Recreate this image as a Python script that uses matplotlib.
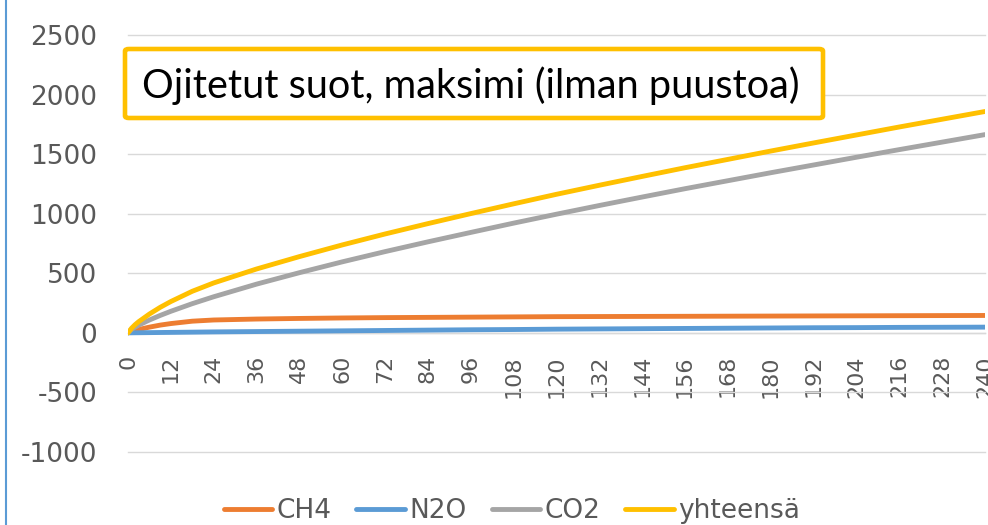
import matplotlib
matplotlib.use("Agg")
import matplotlib.pyplot as plt
from matplotlib import font_manager
from matplotlib.lines import Line2D
from matplotlib.patches import FancyBboxPatch

# ---------------- DATA ----------------

months = [0, 1, 2, 3, 6, 9, 12, 18, 24, 36, 48, 60, 72, 84, 96, 108, 120,
          132, 144, 156, 168, 180, 192, 204, 216, 228, 240]

ch4 = [0, 10, 20, 28, 48, 65, 78, 98, 108, 116, 121, 125, 128, 130, 132, 134, 136,
       137, 138, 139, 140, 141, 142, 143, 144, 145, 146]

n2o = [0, 0.3, 0.7, 1, 2, 3, 4, 6, 8, 11, 14, 17, 20, 23, 26, 28, 31,
       33, 35, 37, 39, 41, 43, 44, 46, 47, 48]

co2 = [0, 29, 48, 65, 108, 146, 181, 245, 303, 409, 505, 596, 682, 764, 843, 921, 996,
       1069, 1140, 1210, 1277, 1344, 1409, 1474, 1538, 1601, 1664]

yhteensa = [0, 39, 69, 94, 158, 214, 263, 349, 419, 536, 640, 738, 830, 917, 1001, 1083, 1163,
            1239, 1313, 1386, 1456, 1526, 1594, 1661, 1728, 1793, 1858]

tick_months = list(range(0, 241, 12))
tick_labels = [str(m) for m in tick_months]
y_ticks = [-1000, -500, 0, 500, 1000, 1500, 2000, 2500]

series = [
    ("CH4", ch4, "#ED7D31"),
    ("N2O", n2o, "#5B9BD5"),
    ("CO2", co2, "#A5A5A5"),
    ("yhteensä", yhteensa, "#FFC000"),
]

# ---------------- FONTS ----------------

installed = {f.name for f in font_manager.fontManager.ttflist}
narrow = "Liberation Sans Narrow" if "Liberation Sans Narrow" in installed else "DejaVu Sans"
title_font = "Lato" if "Lato" in installed else "DejaVu Sans"

TEXT_GREY = "#595959"
GRID_GREY = "#D9D9D9"

# ---------------- FIGURE ----------------

fig = plt.figure(figsize=(9.88, 5.25), dpi=100)
ax = fig.add_axes([128 / 988, 1 - 452 / 525, (985 - 128) / 988, (452 - 35) / 525])

for s in ["top", "right", "left"]:
    ax.spines[s].set_visible(False)
# x axis crosses at zero (set before tick labels, this resets ticks)
ax.spines["bottom"].set_position(("data", 0))
ax.spines["bottom"].set_color(GRID_GREY)
ax.spines["bottom"].set_linewidth(1)
ax.spines["bottom"].set_zorder(2)

for name, vals, col in series:
    ax.plot(months, vals, color=col, lw=3.5, label=name,
            solid_capstyle="round", solid_joinstyle="round", zorder=3)

ax.set_xlim(0, 240)
ax.set_ylim(-1000, 2500)
ax.set_yticks(y_ticks)
ax.set_yticklabels([str(v) for v in y_ticks])
ax.set_xticks(tick_months)
ax.set_xticklabels(tick_labels, rotation=90, va="top", ha="center",
                   family=narrow, fontsize=21 if narrow != "DejaVu Sans" else 16)

ax.grid(axis="y", color=GRID_GREY, lw=1)
ax.set_axisbelow(True)
# keep the edge gridlines (-1000 / 2500) fully visible
for gl in ax.get_ygridlines():
    gl.set_clip_on(False)

ax.tick_params(axis="y", length=0, pad=22, labelsize=19, labelcolor=TEXT_GREY)
ax.tick_params(axis="x", length=0, pad=16, labelcolor=TEXT_GREY)

# title box
box = FancyBboxPatch((125 / 988, 1 - 118 / 525), (823 - 125) / 988, (118 - 49) / 525,
                     boxstyle="round,pad=0,rounding_size=0.004",
                     transform=fig.transFigure, facecolor="white",
                     edgecolor="#FFC000", lw=3.3, zorder=5)
fig.patches.append(box)
fig.text(142 / 988, 1 - 98 / 525, "Ojitetut suot, maksimi (ilman puustoa)",
         family=title_font, fontsize=28.5, color="black", va="baseline", ha="left",
         zorder=6)

# left border line
fig.add_artist(Line2D([6 / 988, 6 / 988], [0, 1], transform=fig.transFigure,
                      color="#5B9BD5", lw=1.5))

fig.legend(loc="center", bbox_to_anchor=(0.518, 0.026), ncol=4, frameon=False,
           fontsize=19, labelcolor=TEXT_GREY, handlelength=1.85,
           handletextpad=0.15, columnspacing=0.95, borderaxespad=0)

plt.savefig("out.png", dpi=100)
